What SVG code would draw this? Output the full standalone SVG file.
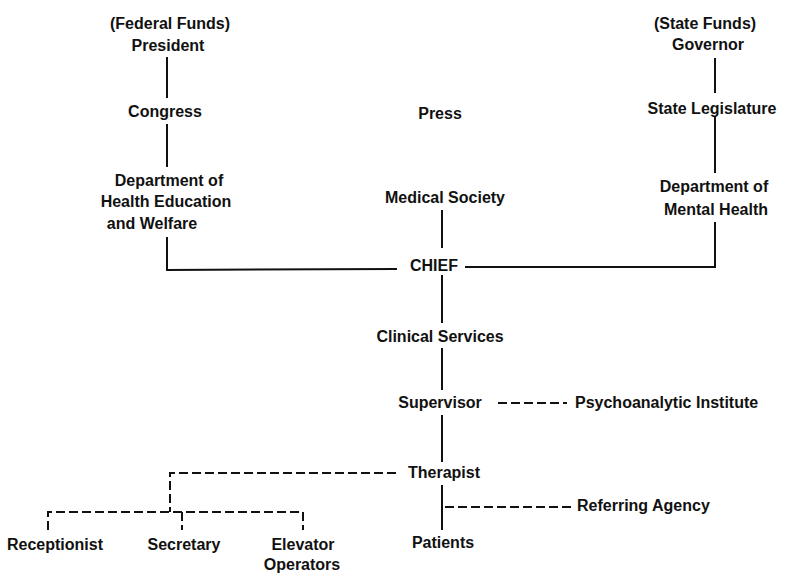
<svg xmlns="http://www.w3.org/2000/svg" width="791" height="577" viewBox="0 0 791 577">
<style>
  text { font-family: "Liberation Sans", Arial, sans-serif; font-weight: bold; font-size: 16px; fill: #111; text-anchor: middle; }
  .solid { fill: none; stroke: #111; stroke-width: 2; }
  .dash { fill: none; stroke: #111; stroke-width: 2; stroke-dasharray: 9 4; }
  .start { text-anchor: start; }
</style>
<rect width="791" height="577" fill="#fff"/>

<g id="connectors">
  <!-- federal chain -->
  <line class="solid" x1="167" y1="57" x2="167" y2="98"/>
  <line class="solid" x1="167" y1="124" x2="167" y2="167"/>
  <polyline class="solid" points="167,237 167,270 397,269"/>
  <!-- state chain -->
  <line class="solid" x1="715" y1="58" x2="715" y2="93"/>
  <line class="solid" x1="715" y1="117" x2="715" y2="173"/>
  <polyline class="solid" points="465,267 715,267 715,222"/>
  <!-- central spine -->
  <line class="solid" x1="442" y1="210" x2="442" y2="248"/>
  <line class="solid" x1="442" y1="275" x2="442" y2="323"/>
  <line class="solid" x1="442" y1="348" x2="442" y2="390"/>
  <line class="solid" x1="442" y1="415" x2="442" y2="462"/>
  <line class="solid" x1="442" y1="485" x2="442" y2="530"/>
  <!-- dashed relations -->
  <line class="dash" x1="498" y1="403" x2="567" y2="403"/>
  <line class="dash" x1="445" y1="507" x2="572" y2="507"/>
  <polyline class="dash" points="396,473 170,473 170,512"/>
  <polyline class="dash" points="48,530 48,512 303,512 303,530"/>
  <line class="dash" x1="182" y1="512" x2="182" y2="530"/>
</g>

<g id="federal-funds"><text x="170" y="29">(Federal Funds)</text><text x="168" y="51">President</text></g>
<g id="congress"><text x="165" y="117">Congress</text></g>
<g id="hew"><text x="169" y="186">Department of</text><text x="166" y="207">Health Education</text><text x="152" y="229">and Welfare</text></g>

<g id="state-funds"><text x="705" y="29">(State Funds)</text><text x="708" y="50">Governor</text></g>
<g id="state-legislature"><text x="712" y="114">State Legislature</text></g>
<g id="dmh"><text x="714" y="192">Department of</text><text x="716" y="215">Mental Health</text></g>

<g id="press"><text x="440" y="119">Press</text></g>
<g id="medical-society"><text x="445" y="203">Medical Society</text></g>
<g id="chief"><text x="434" y="271">CHIEF</text></g>
<g id="clinical-services"><text x="440" y="342">Clinical Services</text></g>
<g id="supervisor"><text x="440" y="408">Supervisor</text></g>
<g id="psychoanalytic-institute"><text class="start" x="575" y="408">Psychoanalytic Institute</text></g>
<g id="therapist"><text x="444" y="478">Therapist</text></g>
<g id="referring-agency"><text class="start" x="577" y="511">Referring Agency</text></g>
<g id="patients"><text x="443" y="548">Patients</text></g>

<g id="receptionist"><text x="55" y="550">Receptionist</text></g>
<g id="secretary"><text x="184" y="550">Secretary</text></g>
<g id="elevator-operators"><text x="303" y="550">Elevator</text><text x="302" y="570">Operators</text></g>
</svg>
